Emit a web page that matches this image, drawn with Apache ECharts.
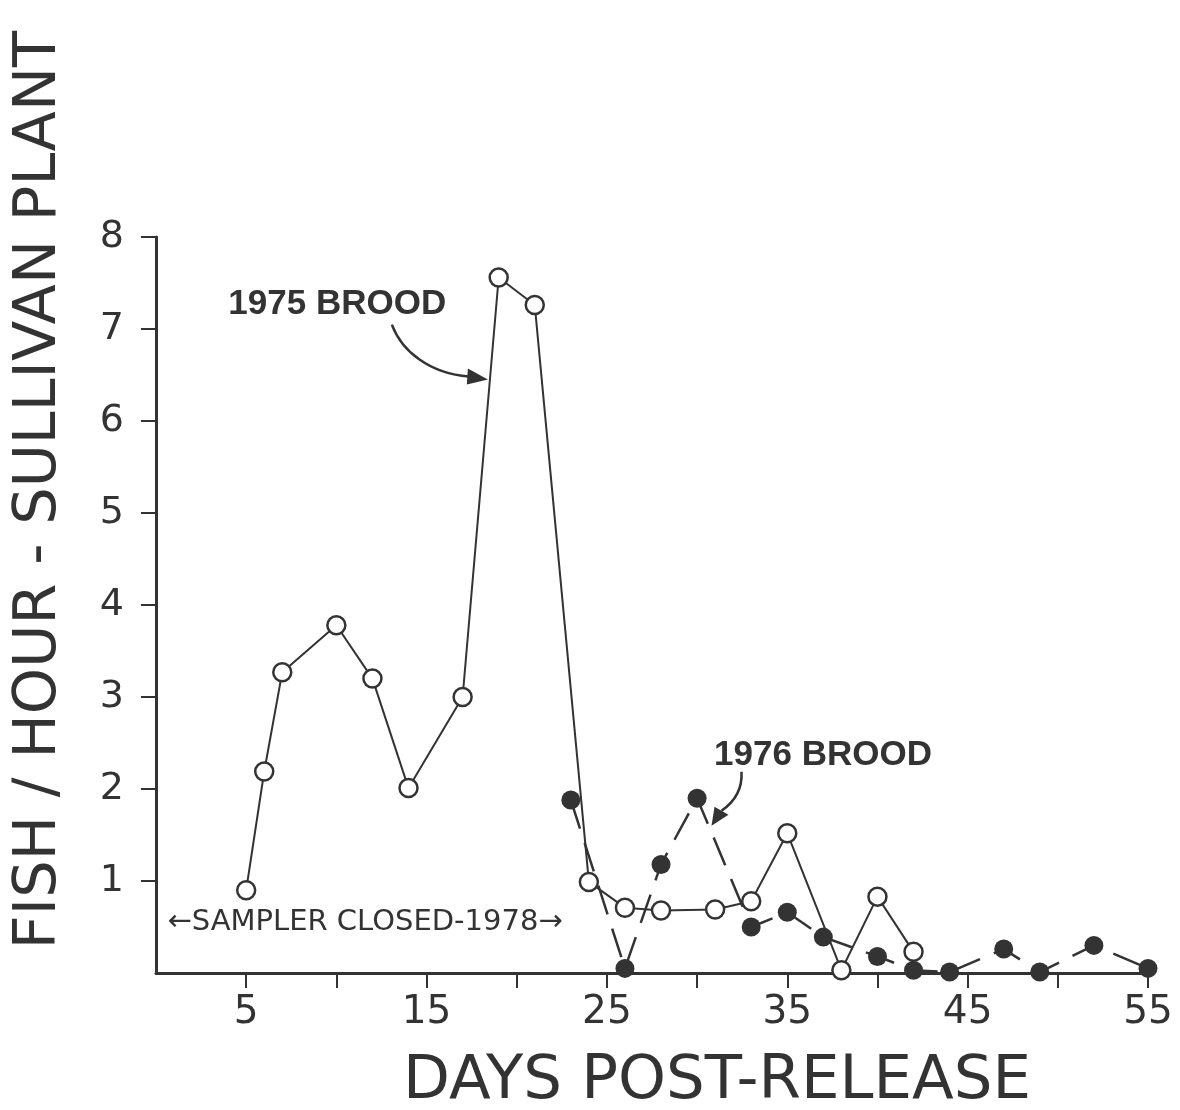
<!DOCTYPE html>
<html>
<head>
<meta charset="utf-8">
<title>Fish per hour – Sullivan Plant</title>
<script src="https://cdn.jsdelivr.net/npm/echarts@6/dist/echarts.min.js"></script>
<style>
  html, body { margin: 0; padding: 0; background: #fff; }
  #chart { width: 1180px; height: 1110px; }
</style>
</head>
<body>
<div id="chart"></div>
<script>
// Days after release for each sample, and catch rate (fish per hour)
const days1975 = [5, 6, 7, 10, 12, 14, 17, 19, 21, 24, 26, 28, 31, 33, 35, 38, 40, 42];
const fish1975 = [0.9, 2.19, 3.27, 3.78, 3.2, 2.01, 3.0, 7.56, 7.26, 0.99, 0.71, 0.68, 0.69, 0.78, 1.52, 0.03, 0.83, 0.23];

const days1976 = [23, 26, 28, 30, 33, 35, 37, 40, 42, 44, 47, 49, 52, 55];
const fish1976 = [1.88, 0.05, 1.18, 1.9, 0.5, 0.66, 0.39, 0.18, 0.03, 0.01, 0.26, 0.01, 0.3, 0.05];

// Axis tick marks and the tick labels that are printed
const xTicks = [5, 10, 15, 20, 25, 30, 35, 40, 45, 50, 55];
const yTicks = [1, 2, 3, 4, 5, 6, 7, 8];
const xTickLabels = ['5', '15', '25', '35', '45', '55'];
const yTickLabels = ['1', '2', '3', '4', '5', '6', '7', '8'];

// Annotation texts
const label1975 = '1975 BROOD';
const label1976 = '1976 BROOD';
const samplerNote = '←SAMPLER CLOSED-1978→';
const xTitle = 'DAYS POST-RELEASE';
const yTitle = 'FISH / HOUR - SULLIVAN PLANT';

const INK = '#333333';
const FONT = "'DejaVu Sans', 'Liberation Sans', sans-serif";
const BOLD_FONT = "'Liberation Sans', 'DejaVu Sans', sans-serif";

const pairs = (xs, ys) => xs.map((x, i) => [x, ys[i]]);

const chart = echarts.init(document.getElementById('chart'), null, { renderer: 'canvas' });

chart.setOption({
  animation: false,
  backgroundColor: '#ffffff',
  grid: { left: 156, right: 32, top: 237, bottom: 137, containLabel: false, outerBoundsMode: 'none' },
  xAxis: {
    type: 'value',
    min: 0, max: 55, interval: 5,
    splitLine: { show: false },
    axisLine: { lineStyle: { color: INK, width: 3 } },
    axisTick: { inside: false, length: 15, customValues: xTicks, lineStyle: { color: INK, width: 2 } },
    axisLabel: {
      margin: 20,
      color: INK,
      fontFamily: FONT,
      fontSize: 39,
      formatter: v => (xTickLabels.includes(String(v)) ? String(v) : '')
    }
  },
  yAxis: {
    type: 'value',
    min: 0, max: 8, interval: 1,
    splitLine: { show: false },
    axisLine: { show: true, lineStyle: { color: INK, width: 3 } },
    axisTick: { show: true, inside: false, length: 15, customValues: yTicks, lineStyle: { color: INK, width: 2 } },
    axisLabel: {
      margin: 32,
      color: INK,
      fontFamily: FONT,
      fontSize: 38,
      formatter: v => (yTickLabels.includes(String(v)) ? String(v) : '')
    }
  },
  series: [
    {
      name: label1975,
      type: 'line',
      data: pairs(days1975, fish1975),
      symbol: 'circle',
      symbolSize: 18,
      lineStyle: { color: INK, width: 2 },
      itemStyle: { color: '#ffffff', borderColor: INK, borderWidth: 2.5 },
      z: 3
    },
    {
      name: label1976,
      type: 'line',
      data: pairs(days1976, fish1976),
      symbol: 'circle',
      symbolSize: 19,
      lineStyle: { color: INK, width: 2.5, type: [30, 15] },
      itemStyle: { color: INK, borderColor: INK, borderWidth: 0 },
      z: 4
    }
  ]
});

// Annotations anchored in data space
const px = (d, v) => chart.convertToPixel({ gridIndex: 0 }, [d, v]);

function curvedArrow(tip, start, cp1, cp2, base, c1, c2) {
  // offsets are relative to the arrow tip
  const T = px(tip[0], tip[1]);
  const o = p => [T[0] + p[0], T[1] + p[1]];
  const s = o(start), a = o(cp1), b = o(cp2), e = o(base);
  return [
    {
      type: 'bezierCurve',
      shape: { x1: s[0], y1: s[1], cpx1: a[0], cpy1: a[1], cpx2: b[0], cpy2: b[1], x2: e[0], y2: e[1] },
      style: { stroke: INK, lineWidth: 2.5, fill: null },
      z: 10
    },
    {
      type: 'polygon',
      shape: { points: [T, o(c1), o(c2)] },
      style: { fill: INK },
      z: 10
    }
  ];
}

function note(text, d, v, opts) {
  const p = px(d, v);
  return {
    type: 'text',
    x: p[0], y: p[1],
    style: Object.assign({
      text: text,
      fill: INK,
      align: 'center',
      verticalAlign: 'middle'
    }, opts),
    z: 10
  };
}

const grid = chart.getModel().getComponent('grid', 0).coordinateSystem.getRect();

chart.setOption({
  graphic: [
    note(label1975, 10.05, 7.27, { font: 'bold 35px ' + BOLD_FONT }),
    note(label1976, 36.98, 2.37, { font: 'bold 35px ' + BOLD_FONT }),
    note(samplerNote, 11.59, 0.55, { font: '29px ' + FONT }),
    ...curvedArrow([18.4, 6.45], [-96, -55], [-86, -28], [-58, -6], [-19, -3], [-20, -11], [-21, 5]),
    ...curvedArrow([30.8, 1.6], [30, -54], [31, -37], [23, -24], [10, -15], [17, -11], [3, -19]),
    {
      type: 'text',
      x: grid.x + 561, y: 1082,
      style: { text: xTitle, font: '61px ' + FONT, fill: INK, align: 'center', verticalAlign: 'middle' },
      z: 10
    },
    {
      type: 'text',
      x: 40, y: 490,
      rotation: Math.PI / 2,
      style: { text: yTitle, font: '59px ' + FONT, fill: INK, align: 'center', verticalAlign: 'middle' },
      z: 10
    }
  ]
});
</script>
</body>
</html>
